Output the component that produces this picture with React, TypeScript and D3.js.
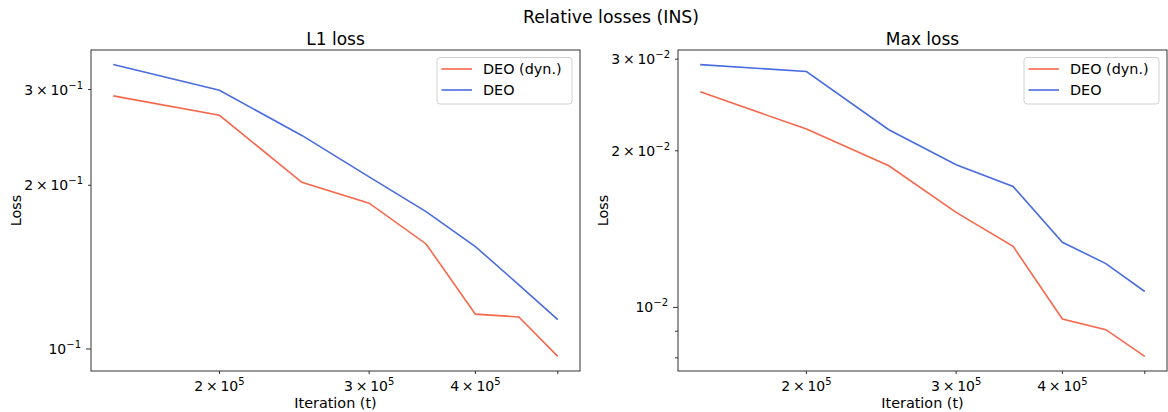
import React from 'react';
import * as d3 from 'd3';

// iterations (shared x values) and the two losses per panel
const iterations = [150000, 200000, 250000, 300000, 350000, 400000, 450000, 500000];
const l1Dyn = [0.292, 0.269, 0.2025, 0.1854, 0.156, 0.1159, 0.1145, 0.0969];
const l1Deo = [0.3334, 0.299, 0.247, 0.2073, 0.1789, 0.1543, 0.1312, 0.1132];
const maxDyn = [0.02596, 0.02202, 0.01872, 0.01523, 0.0131, 0.0095, 0.00906, 0.00805];
const maxDeo = [0.02929, 0.0284, 0.02195, 0.0188, 0.01708, 0.01334, 0.01214, 0.01073];

const seriesNames = ['DEO (dyn.)', 'DEO'];
const seriesColors = ['#f8674c', '#4a6ce0'];

// tick values + labels: [mantissa, exponent] ; empty mantissa & exponent -> no label
const xTicks = [200000, 300000, 400000, 500000];
const xTickLabels = [['2', '5'], ['3', '5'], ['4', '5'], null];
const l1Ticks = [0.1, 0.2, 0.3];
const l1TickLabels = [['', '\u22121'], ['2', '\u22121'], ['3', '\u22121']];
const maxTicks = [0.008, 0.009, 0.01, 0.02, 0.03];
const maxTickLabels = [null, null, ['', '\u22122'], ['2', '\u22122'], ['3', '\u22122']];

const FONT = 'DejaVu Sans, sans-serif';
const TOP = 50;
const BOTTOM = 371;

// log domain with matplotlib's 5% margin
const logDomain = (vals: number[]) => {
  const lo = Math.log10(d3.min(vals)!);
  const hi = Math.log10(d3.max(vals)!);
  const m = (hi - lo) * 0.05;
  return [Math.pow(10, lo - m), Math.pow(10, hi + m)];
};

const SciLabel = ({ label, ...rest }: any) => (
  <text fontFamily={FONT} fontSize={14} fill="#000" {...rest}>
    {label[0] ? `${label[0]}\u2009\u00d7\u200910` : '10'}
    <tspan dy={-6} fontSize={10}>{label[1]}</tspan>
  </text>
);

const Panel = ({ x0, x1, title, ys, yTicks, yTickLabels, majorY }: any) => {
  const x = d3.scaleLog().domain(logDomain(iterations)).range([x0, x1]);
  const y = d3.scaleLog().domain(logDomain(ys.flat())).range([BOTTOM, TOP]);
  const line = d3
    .line<number>()
    .x((_, i) => x(iterations[i]))
    .y((d) => y(d));
  const cx = (x0 + x1) / 2;
  const lx = x1 - 143;

  return (
    <g>
      <text x={cx} y={45} textAnchor="middle" fontFamily={FONT} fontSize={17}>{title}</text>
      {ys.map((s: number[], i: number) => (
        <path key={i} d={line(s)!} fill="none" stroke={seriesColors[i]} strokeWidth={1.6} />
      ))}
      <rect x={x0} y={TOP} width={x1 - x0} height={BOTTOM - TOP} fill="none" stroke="#333" strokeWidth={1} />

      {xTicks.map((t, i) => (
        <g key={t}>
          <line x1={x(t)} x2={x(t)} y1={BOTTOM} y2={BOTTOM + 3} stroke="#333" />
          {xTickLabels[i] && (
            <SciLabel label={xTickLabels[i]} x={x(t)} y={391} textAnchor="middle" />
          )}
        </g>
      ))}
      {yTicks.map((t: number, i: number) => {
        const len = t === majorY ? 5 : 3;
        return (
          <g key={t}>
            <line x1={x0 - len} x2={x0} y1={y(t)} y2={y(t)} stroke="#333" />
            {yTickLabels[i] && (
              <SciLabel label={yTickLabels[i]} x={x0 - len - 5} y={y(t) + 5} textAnchor="end" />
            )}
          </g>
        );
      })}

      <text x={cx} y={408} textAnchor="middle" fontFamily={FONT} fontSize={14.4}>Iteration (t)</text>
      <text
        transform={`translate(${x0 - 70},${(TOP + BOTTOM) / 2}) rotate(-90)`}
        textAnchor="middle"
        fontFamily={FONT}
        fontSize={14.4}
      >
        Loss
      </text>

      <rect x={lx} y={57.5} width={135} height={46.5} rx={3} fill="#fff" fillOpacity={0.8} stroke="#d0d0d0" />
      {seriesNames.map((n, i) => (
        <g key={n}>
          <line x1={lx + 4.5} x2={lx + 35} y1={69 + i * 21} y2={69 + i * 21} stroke={seriesColors[i]} strokeWidth={1.6} />
          <text x={lx + 46} y={74 + i * 21} fontFamily={FONT} fontSize={14.4}>{n}</text>
        </g>
      ))}
    </g>
  );
};

export default function App() {
  return (
    <svg width={1168} height={412} style={{ position: 'absolute', left: 0, top: 0, background: '#fff' }}>
      <text x={611} y={23} textAnchor="middle" fontFamily={FONT} fontSize={17.3}>Relative losses (INS)</text>
      <Panel x0={91} x1={580} title="L1 loss" ys={[l1Dyn, l1Deo]} yTicks={l1Ticks} yTickLabels={l1TickLabels} majorY={0.1} />
      <Panel x0={678} x1={1167} title="Max loss" ys={[maxDyn, maxDeo]} yTicks={maxTicks} yTickLabels={maxTickLabels} majorY={0.01} />
    </svg>
  );
}
